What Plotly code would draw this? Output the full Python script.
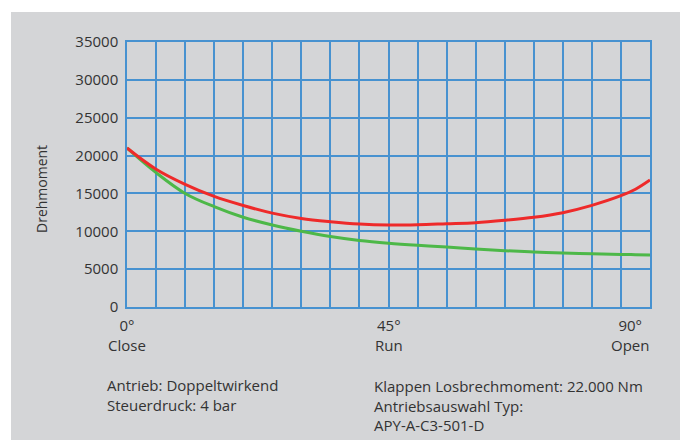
import plotly.graph_objects as go

angle = [0, 5, 10, 15, 20, 25, 30, 35, 40, 45, 50, 55, 60, 65, 70, 75, 80, 85, 87.5, 90]
red = [21000, 18200, 16200, 14600, 13400, 12400, 11700, 11270, 10960, 10830, 10870, 11000,
       11140, 11450, 11850, 12460, 13430, 14700, 15550, 16770]
green = [21000, 17750, 15000, 13250, 11850, 10830, 10000, 9300, 8780, 8420, 8150, 7930,
         7650, 7440, 7270, 7130, 7020, 6950, 6910, 6870]
y_ticks = [0, 5000, 10000, 15000, 20000, 25000, 30000, 35000]
x_labels = [(0, "0°<br>Close", 0), (45, "45°<br>Run", 0), (90, "90°<br>Open", -20)]
note_left = "Antrieb: Doppeltwirkend<br>Steuerdruck: 4 bar"
note_right = "Klappen Losbrechmoment: 22.000 Nm<br>Antriebsauswahl Typ:<br>APY-A-C3-501-D"

FONT = "Open Sans"
TXT = "#333333"
GRID = "#4792d0"

# page has an 8px body margin; work in screen pixels and offset
OFF = 8
W, H = 688 - OFF, 440 - OFF
L, T = 127 - OFF, 42 - OFF
R = 688 - 650
B = 440 - 307
pw, ph = W - L - R, H - T - B


def px(xs):
    return (xs - OFF - L) / pw


def py(ys):
    return (T + ph - (ys - OFF)) / ph


fig = go.Figure()
fig.add_trace(go.Scatter(x=angle, y=green, mode="lines",
                         line=dict(color="#4db848", width=3, shape="spline", smoothing=1.0),
                         hoverinfo="skip"))
fig.add_trace(go.Scatter(x=angle, y=red, mode="lines",
                         line=dict(color="#ee2a2a", width=3, shape="spline", smoothing=1.0),
                         hoverinfo="skip"))

fig.add_shape(type="rect", xref="paper", yref="paper", x0=px(11), x1=px(681), y0=py(450), y1=py(12),
              fillcolor="#d4d5d7", line=dict(width=0), layer="below")

fig.update_layout(
    width=W, height=H,
    margin=dict(l=L, r=R, t=T, b=B),
    paper_bgcolor="white", plot_bgcolor="#d4d5d7",
    showlegend=False,
    font=dict(family=FONT, size=15, color=TXT),
    xaxis=dict(range=[0, 90], tickmode="array", tickvals=list(range(0, 91, 5)), showticklabels=False,
               showgrid=True, gridcolor=GRID, gridwidth=1.5, zeroline=False,
               showline=True, linecolor=GRID, linewidth=1.5, mirror=True, ticks=""),
    yaxis=dict(range=[0, 35000], tickmode="array", tickvals=y_ticks, ticktext=[str(v) for v in y_ticks],
               showgrid=True, gridcolor=GRID, gridwidth=1.5, zeroline=False,
               showline=True, linecolor=GRID, linewidth=1.5, mirror=True, ticks="",
               ticklabelstandoff=4, tickfont=dict(size=15, color=TXT)),
)

for xv, txt, shift in x_labels:
    fig.add_annotation(x=xv, y=py(335), xref="x", yref="paper", text=txt, showarrow=False,
                       xanchor="center", yanchor="middle", xshift=shift, align="center",
                       font=dict(size=15, color=TXT))

fig.add_annotation(x=px(41), y=py(189), xref="paper", yref="paper", text="Drehmoment", textangle=-90,
                   showarrow=False, xanchor="center", yanchor="middle", font=dict(size=14, color=TXT))

fig.add_annotation(x=px(105), y=py(395), xref="paper", yref="paper", text=note_left, showarrow=False,
                   xanchor="left", yanchor="middle", align="left", font=dict(size=15, color=TXT))
fig.add_annotation(x=px(372), y=py(405), xref="paper", yref="paper", text=note_right, showarrow=False,
                   xanchor="left", yanchor="middle", align="left", font=dict(size=15, color=TXT))

fig.write_html("out.html")
